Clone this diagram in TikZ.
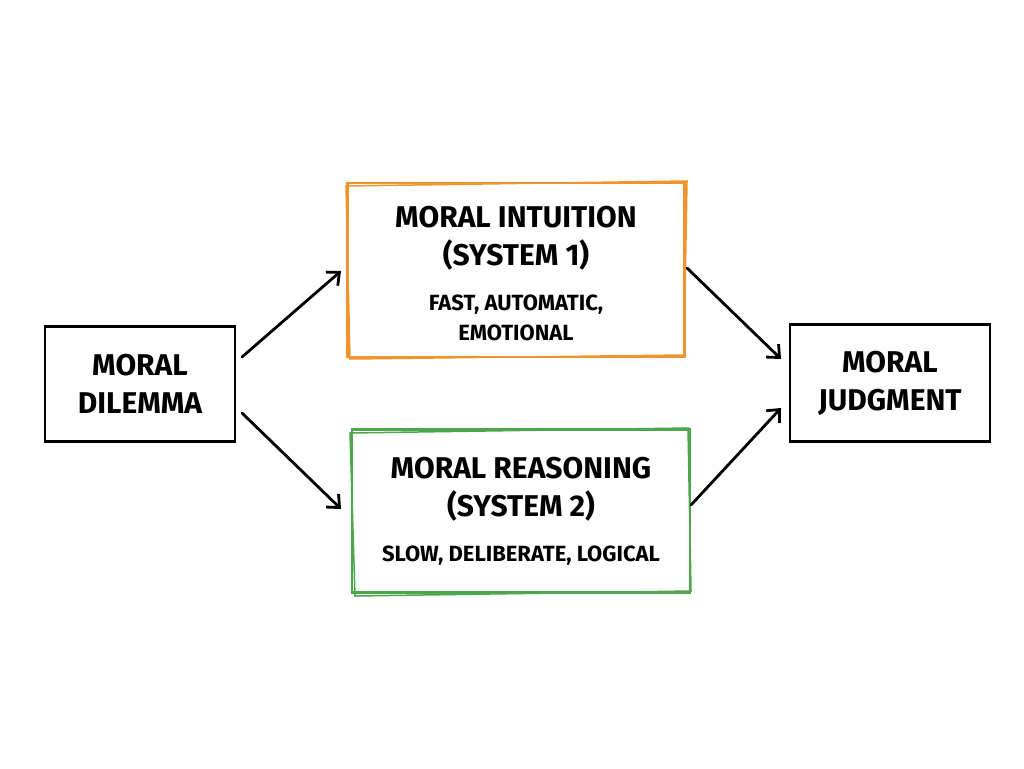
\documentclass[tikz,border=0pt]{standalone}
\usepackage{fontspec}
\setmainfont{Fira Sans}
\usetikzlibrary{arrows.meta}
\definecolor{org}{HTML}{F0952E}
\definecolor{grn}{HTML}{4CA64C}
\begin{document}
\begin{tikzpicture}[x=1pt,y=-1pt,
  box/.style={draw=#1,line width=2.6pt,minimum width=0pt,align=center,inner sep=0pt},
  main/.style={font=\fontsize{30}{38}\selectfont\bfseries},
  sub/.style={font=\fontsize{22}{30}\selectfont\bfseries},
  arr/.style={line width=2.8pt,-{Straight Barb[length=10pt,width=18pt]},line cap=round}]
\useasboundingbox (0,0) rectangle (1024,768);
\node[box=black,minimum width=190pt,minimum height=115pt,main] (d) at (140,384) {MORAL\\DILEMMA};
\node[box=org,minimum width=337pt,minimum height=174pt] (i) at (516,270) {};
\node[main,align=center] at (516,238) {MORAL INTUITION\\(SYSTEM 1)};
\node[sub,align=center] at (516,318) {FAST, AUTOMATIC,\\EMOTIONAL};
\draw[org,line width=1.5pt] (346,186) -- (687,181) -- (684,355) -- (350,359) -- cycle;
\node[box=grn,minimum width=338pt,minimum height=163pt] (r) at (521,511) {};
\node[main,align=center] at (521,489) {MORAL REASONING\\(SYSTEM 2)};
\node[sub] at (521,556) {SLOW, DELIBERATE, LOGICAL};
\draw[grn,line width=1.5pt] (350,433) -- (688,428) -- (691,591) -- (355,596) -- cycle;
\node[box=black,minimum width=200pt,minimum height=117pt,main] (j) at (890,383) {MORAL\\JUDGMENT};
\coordinate (a1) at (242,357); \coordinate (b1) at (341,271);
\coordinate (a2) at (242,413); \coordinate (b2) at (341,509);
\coordinate (a3) at (687,268); \coordinate (b3) at (781,359);
\coordinate (a4) at (691,505); \coordinate (b4) at (781,408);
\draw[arr] (a1) -- (b1);
\draw[arr] (a2) -- (b2);
\draw[arr] (a3) -- (b3);
\draw[arr] (a4) -- (b4);
\end{tikzpicture}
\end{document}
